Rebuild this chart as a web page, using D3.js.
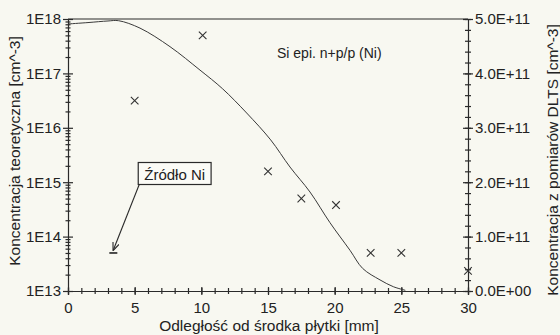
<!DOCTYPE html>
<html>
<head>
<meta charset="utf-8">
<script src="https://cdn.jsdelivr.net/npm/d3@7"></script>
<style>
    body { margin: 0; background: #f8f8f1; }
    svg { display: block; font-family: Arial, "Liberation Sans", sans-serif; }
    .axis path, .axis line { stroke: #2a2a2a; stroke-width: 1.2; }
    .axis text { fill: #222; font-size: 15px; }
</style>
</head>
<body>
<div class="chart"></div>
<script>
// theoretical concentration (left, log axis)
var curveMm   = [0, 1.5, 3, 3.8, 5.4, 7.65, 9.9, 11.6, 13.4, 15.2, 16.65, 18.15, 19.65, 21.15, 22.1, 23.4, 24.4, 25.3];
var curveConc = [8.1e17, 8.6e17, 9.2e17, 9.3e17, 6.8e17, 3.1e17, 1.15e17, 5.2e16, 1.87e16, 6.0e15, 1.9e15, 6.6e14, 1.8e14, 5.6e13, 2.6e13, 1.6e13, 1.2e13, 1.03e13];

// DLTS measurements (right, linear axis)
var dltsMm   = [5, 10.1, 15, 17.5, 20.1, 22.7, 25, 30];
var dltsConc = [3.5e11, 4.7e11, 2.2e11, 1.7e11, 1.58e11, 0.7e11, 0.7e11, 0.37e11];

var xTicks = [0, 5, 10, 15, 20, 25, 30];
var leftTicks = [1e13, 1e14, 1e15, 1e16, 1e17, 1e18];
var rightTicks = [0, 1e11, 2e11, 3e11, 4e11, 5e11];

var sourceMm = 3.4, sourceConc = 5e13;
var sourceLabelMm = 8.0, sourceLabelConc = 1.4e15;
var sampleLabelMm = 19.6, sampleLabelConc = 1.9e17;

var margin = {top: 19, right: 92, bottom: 44, left: 68},
    width = 560 - margin.left - margin.right,
    height = 335 - margin.top - margin.bottom;

var x = d3.scaleLinear().domain([0, 30]).range([0, width]);
var yLeft = d3.scaleLog().domain([1e13, 1e18]).range([height, 0]);
var yRight = d3.scaleLinear().domain([0, 5e11]).range([height, 0]);

function sciFormat(d) {
    var s = d3.format(".1e")(d).split("e");
    var exp = +s[1];
    return s[0] + "E" + (exp < 0 ? "-" : "+") + (Math.abs(exp) < 10 ? "0" : "") + Math.abs(exp);
}

var svg = d3.select(".chart").append("svg")
    .attr("width", 560)
    .attr("height", 335);

var defs = svg.append("defs");
defs.append("clipPath").attr("id", "plot")
    .append("rect").attr("width", width).attr("height", height + 1);
defs.append("marker")
    .attr("id", "arrow")
    .attr("viewBox", "0 0 10 10")
    .attr("refX", 9).attr("refY", 5)
    .attr("markerWidth", 8).attr("markerHeight", 8)
    .attr("markerUnits", "userSpaceOnUse")
    .attr("orient", "auto")
    .append("path")
    .attr("d", "M0,1 L10,5 L0,9")
    .attr("fill", "none")
    .attr("stroke", "#2a2a2a")
    .attr("stroke-width", 1.4);

var g = svg.append("g")
    .attr("transform", "translate(" + margin.left + "," + margin.top + ")");

// frame top line
g.append("line")
    .attr("x1", 0).attr("x2", width)
    .attr("y1", 0).attr("y2", 0)
    .attr("stroke", "#2a2a2a").attr("stroke-width", 1.2);

// x axis: minor + major, ticks crossing the axis
var xMinor = d3.range(0, 31, 1);
g.append("g").attr("class", "axis")
    .attr("transform", "translate(0," + height + ")")
    .call(d3.axisBottom(x).tickValues(xMinor).tickSize(3).tickFormat(""))
    .call(function(s) { s.selectAll(".tick line").attr("y1", -3); s.select(".domain").remove(); });
g.append("g").attr("class", "axis")
    .attr("transform", "translate(0," + height + ")")
    .call(d3.axisBottom(x).tickValues(xTicks).tickSizeOuter(0).tickSize(4).tickPadding(7))
    .call(function(s) { s.selectAll(".tick line").attr("y1", -4); });

// left log axis
var leftMinor = [];
leftTicks.slice(0, -1).forEach(function(t) {
    for (var k = 2; k <= 9; k++) leftMinor.push(t * k);
});
g.append("g").attr("class", "axis")
    .call(d3.axisLeft(yLeft).tickValues(leftMinor).tickSize(2.5).tickFormat(""))
    .call(function(s) { s.selectAll(".tick line").attr("x1", 2.5); s.select(".domain").remove(); });
g.append("g").attr("class", "axis")
    .call(d3.axisLeft(yLeft).tickValues(leftTicks).tickSizeOuter(0).tickSize(5).tickPadding(2)
        .tickFormat(function(d) { return "1E" + Math.round(Math.log10(d)); }))
    .call(function(s) { s.selectAll(".tick line").attr("x1", 5); });

// right linear axis
var rightMinor = d3.range(0, 5.01e11, 0.2e11);
g.append("g").attr("class", "axis")
    .attr("transform", "translate(" + width + ",0)")
    .call(d3.axisRight(yRight).tickValues(rightMinor).tickSize(3).tickFormat(""))
    .call(function(s) { s.selectAll(".tick line").attr("x1", -3); s.select(".domain").remove(); });
g.append("g").attr("class", "axis")
    .attr("transform", "translate(" + width + ",0)")
    .call(d3.axisRight(yRight).tickValues(rightTicks).tickSizeOuter(0).tickSize(5).tickPadding(2)
        .tickFormat(sciFormat))
    .call(function(s) { s.selectAll(".tick line").attr("x1", -5); });

// theoretical curve
var line = d3.line()
    .x(function(d) { return x(d[0]); })
    .y(function(d) { return yLeft(d[1]); })
    .curve(d3.curveCatmullRom.alpha(0.5));

g.append("path")
    .datum(d3.zip(curveMm, curveConc))
    .attr("clip-path", "url(#plot)")
    .attr("d", line)
    .attr("fill", "none")
    .attr("stroke", "#3a3a3a")
    .attr("stroke-width", 1);

// DLTS points as crosses
var c = 3.8;
g.selectAll("path.cross")
    .data(d3.zip(dltsMm, dltsConc))
    .enter().append("path")
    .attr("class", "cross")
    .attr("transform", function(d) { return "translate(" + x(d[0]) + "," + yRight(d[1]) + ")"; })
    .attr("d", "M" + (-c) + "," + (-c) + "L" + c + "," + c + "M" + (-c) + "," + c + "L" + c + "," + (-c))
    .attr("stroke", "#333")
    .attr("stroke-width", 1.1)
    .attr("fill", "none");

// annotation: source of Ni
var sx = x(sourceMm), sy = yLeft(sourceConc);
g.append("line")
    .attr("x1", sx - 4).attr("x2", sx + 4)
    .attr("y1", sy).attr("y2", sy)
    .attr("stroke", "#222").attr("stroke-width", 1.6);

var boxRect = g.append("rect");
var label = g.append("text")
    .attr("x", x(sourceLabelMm))
    .attr("y", yLeft(sourceLabelConc))
    .attr("dy", "0.35em")
    .attr("text-anchor", "middle")
    .style("font-size", "15px")
    .attr("fill", "#222")
    .text("Źródło Ni");
var bb = label.node().getBBox();
var box = {x: bb.x - 6, y: bb.y - 3, w: bb.width + 12, h: bb.height + 5};
boxRect
    .attr("x", box.x).attr("y", box.y)
    .attr("width", box.w).attr("height", box.h)
    .attr("fill", "#fbfbf6")
    .attr("stroke", "#2a2a2a")
    .attr("stroke-width", 1.2);

g.append("line")
    .attr("x1", box.x + 1).attr("y1", box.y + box.h)
    .attr("x2", sx).attr("y2", sy - 3)
    .attr("stroke", "#2a2a2a")
    .attr("stroke-width", 1.1)
    .attr("marker-end", "url(#arrow)");

// sample label
g.append("text")
    .attr("x", x(sampleLabelMm))
    .attr("y", yLeft(sampleLabelConc))
    .attr("text-anchor", "middle")
    .style("font-size", "14px")
    .attr("fill", "#222")
    .text("Si epi. n+p/p (Ni)");

// axis titles
svg.append("text")
    .attr("x", margin.left + width / 2 + 1)
    .attr("y", 330.5)
    .attr("text-anchor", "middle")
    .style("font-size", "15.5px")
    .attr("fill", "#222")
    .text("Odległość od środka płytki [mm]");

svg.append("text")
    .attr("transform", "translate(20," + (margin.top + height / 2 - 4) + ") rotate(-90)")
    .attr("text-anchor", "middle")
    .style("font-size", "15.5px")
    .attr("fill", "#222")
    .text("Koncentracja teoretyczna [cm^-3]");

svg.append("text")
    .attr("transform", "translate(558," + (margin.top + height / 2 + 5) + ") rotate(-90)")
    .attr("text-anchor", "middle")
    .style("font-size", "15.5px")
    .attr("fill", "#222")
    .text("Koncentracja z pomiarów DLTS [cm^-3]");
</script>
</body>
</html>
